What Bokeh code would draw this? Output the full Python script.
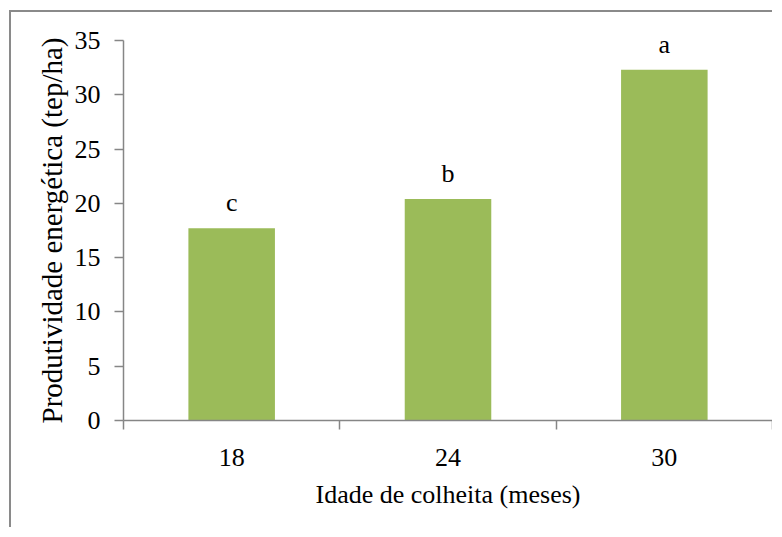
from bokeh.plotting import figure
from bokeh.models import FixedTicker, ColumnDataSource, LabelSet
from bokeh.core.properties import value
from bokeh.embed import file_html
from bokeh.resources import INLINE

# ---- data ----
categories = ["18", "24", "30"]
values = [17.7, 20.4, 32.3]
letters = ["c", "b", "a"]
y_ticks = [0, 5, 10, 15, 20, 25, 30, 35]
x_title = "Idade de colheita (meses)"
y_title = "Produtividade energética (tep/ha)"

FONT = "Liberation Serif"
GRAY = "#868686"
GREEN = "#9BBB59"

W, H = 763, 517
xs = [i + 0.5 for i in range(len(categories))]
source = ColumnDataSource(dict(x=xs, top=values, letter=letters))

p = figure(width=W, height=H, output_backend="svg", toolbar_location=None,
           x_range=(0, len(categories)), y_range=(0, 35),
           min_border_left=112, min_border_right=W - 761,
           min_border_top=28, min_border_bottom=H - 408)
p.styles = {"border-top": "2px solid #8a8a8a", "border-left": "2px solid #8a8a8a",
            "margin-left": "9px", "margin-top": "10px"}
p.outline_line_color = None
p.grid.visible = False
p.background_fill_color = "white"
p.border_fill_color = "white"

p.vbar(x="x", top="top", width=0.40, source=source, fill_color=GREEN, line_color=None)

labels = LabelSet(x="x", y="top", text="letter", source=source, y_offset=17,
                  text_align="center", text_baseline="alphabetic",
                  text_font=value(FONT), text_font_size="26px", text_color="black")
p.add_layout(labels)

# x axis
p.xaxis.ticker = FixedTicker(ticks=xs, minor_ticks=list(range(len(categories) + 1)))
p.xaxis.major_label_overrides = {x: c for x, c in zip(xs, categories)}
p.xaxis.major_tick_out = 0
p.xaxis.major_tick_in = 0
p.xaxis.minor_tick_out = 9
p.xaxis.minor_tick_in = 0
p.xaxis.major_label_standoff = 19
p.xaxis.axis_label = x_title
p.xaxis.axis_label_standoff = 11

# y axis
p.yaxis.ticker = FixedTicker(ticks=y_ticks, minor_ticks=[])
p.yaxis.major_tick_out = 9
p.yaxis.major_tick_in = 0
p.yaxis.minor_tick_out = 0
p.yaxis.minor_tick_in = 0
p.yaxis.major_label_standoff = 14
p.yaxis.axis_label = y_title
p.yaxis.axis_label_standoff = 4

for ax in (p.xaxis, p.yaxis):
    ax.axis_line_color = GRAY
    ax.axis_line_width = 1.5
    ax.major_tick_line_color = GRAY
    ax.minor_tick_line_color = GRAY
    ax.major_tick_line_width = 1.5
    ax.minor_tick_line_width = 1.5
    ax.major_label_text_font = FONT
    ax.major_label_text_font_size = "26px"
    ax.major_label_text_color = "black"
    ax.axis_label_text_font = FONT
    ax.axis_label_text_font_style = "normal"
    ax.axis_label_text_color = "black"

p.xaxis.axis_label_text_font_size = "26px"
p.yaxis.axis_label_text_font_size = "29px"

open("out.html", "w").write(file_html(p, INLINE))
